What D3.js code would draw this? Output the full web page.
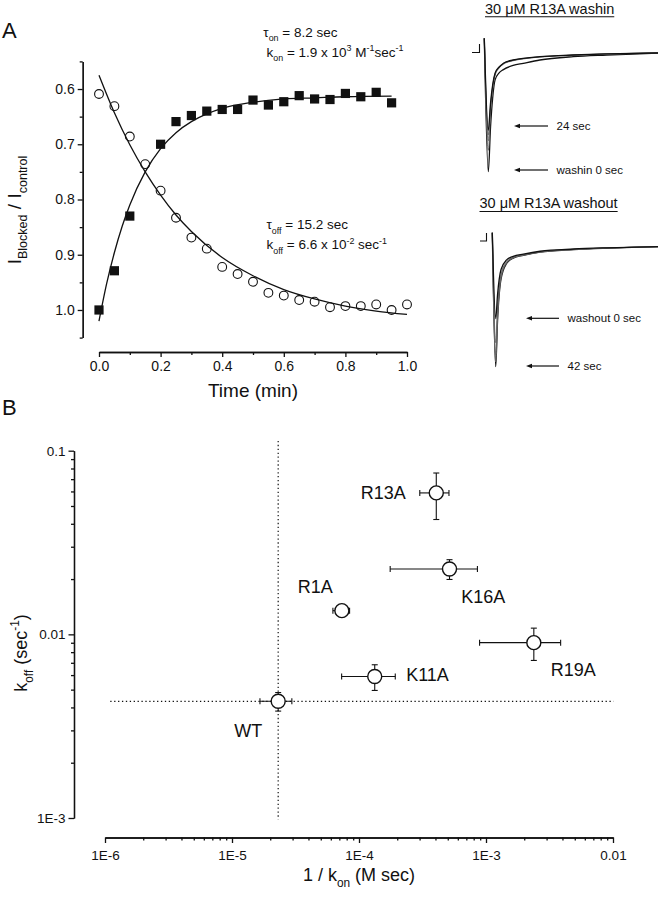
<!DOCTYPE html>
<html>
<head>
<meta charset="utf-8">
<script src="https://cdn.jsdelivr.net/npm/d3@7"></script>
<style>
  body { margin: 0; background: #fff; }
  svg text { font-family: "Liberation Sans", Arial, Helvetica, sans-serif; fill: #111; }
</style>
</head>
<body>
<div id="chart"></div>
<script>
// ---------- panel A (left): block kinetics ----------
let washinTime  = [0, 0.05, 0.10, 0.20, 0.25, 0.30, 0.35, 0.40, 0.45, 0.50, 0.55, 0.60, 0.65, 0.70, 0.75, 0.80, 0.85, 0.90, 0.95];
let washinRatio = [1.000, 0.929, 0.830, 0.700, 0.659, 0.648, 0.640, 0.637, 0.637, 0.620, 0.629, 0.623, 0.612, 0.618, 0.619, 0.608, 0.614, 0.606, 0.625];

let washoutTime  = [0, 0.05, 0.10, 0.15, 0.20, 0.25, 0.30, 0.35, 0.40, 0.45, 0.50, 0.55, 0.60, 0.65, 0.70, 0.75, 0.80, 0.85, 0.90, 0.95, 1.00];
let washoutRatio = [0.609, 0.631, 0.686, 0.736, 0.784, 0.833, 0.869, 0.889, 0.922, 0.935, 0.949, 0.969, 0.974, 0.982, 0.985, 0.995, 0.993, 0.993, 0.990, 1.000, 0.990];

// fitted curves
let washinFitTime   = [0, 0.025, 0.05, 0.075, 0.10, 0.15, 0.20, 0.25, 0.30, 0.35, 0.40, 0.50, 0.60, 0.70, 0.80, 0.95];
let washinFitRatio  = [1.020, 0.952, 0.896, 0.849, 0.810, 0.750, 0.708, 0.679, 0.659, 0.645, 0.635, 0.624, 0.618, 0.616, 0.614, 0.613];
let washoutFitTime  = [0, 0.05, 0.10, 0.15, 0.20, 0.25, 0.30, 0.40, 0.50, 0.60, 0.70, 0.80, 0.90, 1.00];
let washoutFitRatio = [0.575, 0.643, 0.701, 0.750, 0.792, 0.828, 0.858, 0.905, 0.938, 0.963, 0.980, 0.993, 1.002, 1.008];

let timeTicks  = [0, 0.2, 0.4, 0.6, 0.8, 1.0];
let timeMinor  = [0.1, 0.3, 0.5, 0.7, 0.9];
let ratioTicks = [0.6, 0.7, 0.8, 0.9, 1.0];
let ratioMinor = [0.55, 0.65, 0.75, 0.85, 0.95, 1.05];

// ---------- panel A (right): current traces ----------
// normalised current, 0 = baseline, -1 = largest peak
let washinTraceTime = [0, 1.15, 1.8, 2.4, 3.1, 4.2, 5.5, 8.3, 11.2, 16, 25.6, 35.2, 50];
let washinTraces = [
    [0.124, -1.00, -0.62, -0.38, -0.227, -0.17, -0.14, -0.105, -0.087, -0.059, -0.031, -0.017, 0],   // washin 0 sec
    [0.124, -0.82, -0.50, -0.31, -0.190, -0.13, -0.095, -0.065, -0.050, -0.034, -0.019, -0.009, 0],
    [0.124, -0.74, -0.46, -0.29, -0.180, -0.125, -0.090, -0.062, -0.047, -0.032, -0.018, -0.008, 0],
    [0.124, -0.69, -0.44, -0.28, -0.175, -0.122, -0.088, -0.060, -0.046, -0.031, -0.017, -0.008, 0],
    [0.124, -0.65, -0.42, -0.27, -0.171, -0.120, -0.087, -0.059, -0.045, -0.031, -0.017, -0.008, 0]  // 24 sec
];
let washoutTraceTime = [0, 0.98, 1.5, 2.5, 4.1, 6, 8.9, 13.7, 23.3, 32.8, 47.5];
let washoutTraces = [
    [0.117, -1.00, -0.62, -0.27, -0.140, -0.095, -0.072, -0.045, -0.024, -0.012, 0],  // 42 sec
    [0.117, -0.96, -0.60, -0.26, -0.136, -0.094, -0.071, -0.045, -0.024, -0.012, 0],
    [0.117, -0.90, -0.57, -0.25, -0.132, -0.092, -0.070, -0.044, -0.023, -0.011, 0],
    [0.117, -0.80, -0.51, -0.23, -0.125, -0.088, -0.067, -0.042, -0.022, -0.011, 0],
    [0.117, -0.60, -0.40, -0.19, -0.110, -0.080, -0.062, -0.038, -0.019, -0.009, 0]   // washout 0 sec
];

// ---------- panel B: koff vs 1/kon ----------
let mutants   = ['WT', 'R1A', 'K11A', 'R13A', 'K16A', 'R19A'];
let invKon    = [2.31e-5, 7.33e-5, 1.33e-4, 4.06e-4, 5.16e-4, 2.38e-3];
let invKonErr = [0.65e-5, 1.1e-5, 0.6e-4, 1.05e-4, 3.4e-4, 1.49e-3];
let koff      = [4.32e-3, 0.01346, 5.89e-3, 0.0589, 0.0227, 9.01e-3];
let koffErr   = [0.50e-3, 0.0006, 0.94e-3, 0.0167, 0.0028, 1.8e-3];

let xDecades = [1e-6, 1e-5, 1e-4, 1e-3, 1e-2];
let xDecadeLabels = ['1E-6', '1E-5', '1E-4', '1E-3', '0.01'];
let yDecades = [1e-3, 1e-2, 1e-1];
let yDecadeLabels = ['1E-3', '0.01', '0.1'];

const FONT = '"Liberation Sans", Arial, Helvetica, sans-serif';

let svg = d3.select('#chart').append('svg')
    .attr('width', 659)
    .attr('height', 899);

// writes text with sub/superscripts: parts = [[text, 'sub'|'sup'|undefined], ...]
function richText(sel, parts, size) {
    let shift = 0;
    parts.forEach(function (p) {
        let target = p[1] === 'sub' ? size * 0.32 : (p[1] === 'sup' ? -size * 0.42 : 0);
        sel.append('tspan')
            .attr('dy', (target - shift).toFixed(2))
            .attr('font-size', p[1] ? size * 0.66 : size)
            .text(p[0]);
        shift = target;
    });
    return sel;
}

function styleAxis(g, size) {
    g.attr('font-family', FONT).attr('font-size', size);
    g.selectAll('path, line').attr('stroke', '#111').attr('stroke-width', 1.3);
    g.selectAll('text').attr('fill', '#111');
}

// ================= Panel A, kinetics plot =================
let xA = d3.scaleLinear().domain([0, 1]).range([99, 407]);
let yA = d3.scaleLinear().domain([0.55, 1.05]).range([61.4, 337.6]);

let gxA = svg.append('g').attr('transform', 'translate(0,352)')
    .call(d3.axisBottom(xA).tickValues(timeTicks).tickFormat(d3.format('.1f'))
        .tickSize(5).tickSizeOuter(0).tickPadding(4));
styleAxis(gxA, 14);
let gxAm = svg.append('g').attr('transform', 'translate(0,352)')
    .call(d3.axisBottom(xA).tickValues(timeMinor).tickFormat('').tickSize(3).tickSizeOuter(0));
styleAxis(gxAm, 14);

let gyA = svg.append('g').attr('transform', 'translate(82.7,0)')
    .call(d3.axisLeft(yA).tickValues(ratioTicks).tickFormat(d3.format('.1f'))
        .tickSize(5).tickSizeOuter(0).tickPadding(3));
styleAxis(gyA, 14);
let gyAm = svg.append('g').attr('transform', 'translate(82.7,0)')
    .call(d3.axisLeft(yA).tickValues(ratioMinor).tickFormat('').tickSize(3).tickSizeOuter(0));
styleAxis(gyAm, 14);

svg.append('text').attr('x', 253).attr('y', 397).attr('text-anchor', 'middle')
    .attr('font-size', 19).text('Time (min)');

richText(svg.append('text')
    .attr('transform', 'translate(21,210) rotate(-90)')
    .attr('text-anchor', 'middle'),
    [['I'], ['Blocked', 'sub'], [' / I'], ['control', 'sub']], 19);

svg.append('text').attr('x', 2).attr('y', 38).attr('font-size', 22).text('A');

let fitLine = d3.line()
    .x(function (d) { return xA(d[0]); })
    .y(function (d) { return yA(d[1]); })
    .curve(d3.curveMonotoneX);

svg.append('path')
    .datum(d3.zip(washinFitTime, washinFitRatio))
    .attr('d', fitLine)
    .attr('fill', 'none').attr('stroke', '#111').attr('stroke-width', 1.3);
svg.append('path')
    .datum(d3.zip(washoutFitTime, washoutFitRatio))
    .attr('d', fitLine)
    .attr('fill', 'none').attr('stroke', '#111').attr('stroke-width', 1.3);

svg.append('g').selectAll('circle')
    .data(d3.zip(washoutTime, washoutRatio))
    .enter().append('circle')
    .attr('cx', function (d) { return xA(d[0]); })
    .attr('cy', function (d) { return yA(d[1]); })
    .attr('r', 4.4)
    .attr('fill', 'none').attr('stroke', '#111').attr('stroke-width', 1.1);

svg.append('g').selectAll('rect')
    .data(d3.zip(washinTime, washinRatio))
    .enter().append('rect')
    .attr('x', function (d) { return xA(d[0]) - 4.6; })
    .attr('y', function (d) { return yA(d[1]) - 4.6; })
    .attr('width', 9.2).attr('height', 9.2)
    .attr('fill', '#111');

richText(svg.append('text').attr('x', 263.3).attr('y', 36.7),
    [['\u03c4'], ['on', 'sub'], [' = 8.2 sec']], 13.5);
richText(svg.append('text').attr('x', 266.5).attr('y', 56.7),
    [['k'], ['on', 'sub'], [' = 1.9 x 10'], ['3', 'sup'], [' M'], ['-1', 'sup'], ['sec'], ['-1', 'sup']], 13.5);
richText(svg.append('text').attr('x', 266.5).attr('y', 229.3),
    [['\u03c4'], ['off', 'sub'], [' = 15.2 sec']], 13.5);
richText(svg.append('text').attr('x', 266.5).attr('y', 249.3),
    [['k'], ['off', 'sub'], [' = 6.6 x 10'], ['-2', 'sup'], [' sec'], ['-1', 'sup']], 13.5);

// ================= Panel A, current traces =================
function drawTraces(times, traces, xr, y0, y1) {
    let x = d3.scaleLinear().domain([0, d3.max(times)]).range(xr);
    let y = d3.scaleLinear().domain([-1, 0]).range([y1, y0]);
    let line = d3.line()
        .x(function (d) { return x(d[0]); })
        .y(function (d) { return y(d[1]); })
        .curve(d3.curveMonotoneX);
    let g = svg.append('g');
    // extremes in black, the ones in between in grey
    let order = [0, 1, 2, 3, traces.length - 1];
    order.forEach(function (i) {
        let edge = (i === 0 || i === traces.length - 1);
        g.append('path')
            .datum(d3.zip(times, traces[i]))
            .attr('d', line)
            .attr('fill', 'none')
            .attr('stroke', edge ? '#111' : '#666')
            .attr('stroke-width', edge ? 1.3 : 0.9);
    });
}

function arrowLabel(x1, x2, yy, label) {
    svg.append('line').attr('x1', x1 + 3).attr('x2', x2).attr('y1', yy).attr('y2', yy)
        .attr('stroke', '#111').attr('stroke-width', 1.2);
    svg.append('path')
        .attr('d', 'M' + x1 + ',' + yy + 'l6,-2.2v4.4z')
        .attr('fill', '#111');
    svg.append('text').attr('x', x2 + 8.5).attr('y', yy + 4)
        .attr('font-size', 11.5).text(label);
}

function underlinedTitle(x, y, label) {
    let t = svg.append('text').attr('x', x).attr('y', y).attr('font-size', 14.5).text(label);
    let w = t.node().getComputedTextLength();
    svg.append('line').attr('x1', x).attr('x2', x + w).attr('y1', y + 3.2).attr('y2', y + 3.2)
        .attr('stroke', '#111').attr('stroke-width', 1.1);
}

underlinedTitle(485, 13.5, '30 \u03bcM R13A washin');
svg.append('path').attr('d', 'M472,52.5H479.5V44')
    .attr('fill', 'none').attr('stroke', '#111').attr('stroke-width', 1.1);
drawTraces(washinTraceTime, washinTraces, [484.3, 658], 53, 171.7);
arrowLabel(514, 548, 126, '24 sec');
arrowLabel(514, 548, 170, 'washin 0 sec');

underlinedTitle(479.5, 208.3, '30 \u03bcM R13A washout');
svg.append('path').attr('d', 'M480,241H486.5V233')
    .attr('fill', 'none').attr('stroke', '#111').attr('stroke-width', 1.1);
drawTraces(washoutTraceTime, washoutTraces, [492.3, 658], 246.7, 366.7);
arrowLabel(526, 559, 318.3, 'washout 0 sec');
arrowLabel(526, 559, 366, '42 sec');

// ================= Panel B =================
let xB = d3.scaleLog().domain([1e-6, 1e-2]).range([105, 613]);
let yB = d3.scaleLog().domain([1e-3, 1e-1]).range([818, 450.7]);

let xMinor = [], yMinor = [];
for (let k = 0; k < xDecades.length - 1; k++) {
    for (let m = 2; m <= 9; m++) xMinor.push(xDecades[k] * m);
}
for (let k = 0; k < yDecades.length - 1; k++) {
    for (let m = 2; m <= 9; m++) yMinor.push(yDecades[k] * m);
}

let gxB = svg.append('g').attr('transform', 'translate(0,837.5)')
    .call(d3.axisBottom(xB).tickValues(xDecades)
        .tickFormat(function (d, i) { return xDecadeLabels[i]; })
        .tickSize(5.5).tickSizeOuter(0).tickPadding(7));
styleAxis(gxB, 13.5);
let gxBm = svg.append('g').attr('transform', 'translate(0,837.5)')
    .call(d3.axisBottom(xB).tickValues(xMinor).tickFormat('').tickSize(3).tickSizeOuter(0));
styleAxis(gxBm, 13.5);

let gyB = svg.append('g').attr('transform', 'translate(74,0)')
    .call(d3.axisLeft(yB).tickValues(yDecades)
        .tickFormat(function (d, i) { return yDecadeLabels[i]; })
        .tickSize(5.5).tickSizeOuter(0).tickPadding(3));
styleAxis(gyB, 13.5);
let gyBm = svg.append('g').attr('transform', 'translate(74,0)')
    .call(d3.axisLeft(yB).tickValues(yMinor).tickFormat('').tickSize(3).tickSizeOuter(0));
styleAxis(gyBm, 13.5);

richText(svg.append('text').attr('x', 359).attr('y', 881).attr('text-anchor', 'middle'),
    [['1 / k'], ['on', 'sub'], [' (M sec)']], 18);
richText(svg.append('text')
    .attr('transform', 'translate(27,653) rotate(-90)')
    .attr('text-anchor', 'middle'),
    [['k'], ['off', 'sub'], [' (sec'], ['-1', 'sup'], [')']], 18);

svg.append('text').attr('x', 2).attr('y', 415).attr('font-size', 22).text('B');

// dotted reference lines through WT
svg.append('line')
    .attr('x1', xB(invKon[0])).attr('x2', xB(invKon[0]))
    .attr('y1', yB(0.113)).attr('y2', yB(0.00098))
    .attr('stroke', '#111').attr('stroke-width', 1.2).attr('stroke-dasharray', '1.3,2.6');
svg.append('line')
    .attr('x1', xB(1.1e-6)).attr('x2', xB(0.0101))
    .attr('y1', yB(koff[0])).attr('y2', yB(koff[0]))
    .attr('stroke', '#111').attr('stroke-width', 1.2).attr('stroke-dasharray', '1.3,2.6');

let pts = mutants.map(function (name, i) {
    return {name: name, x: invKon[i], xe: invKonErr[i], y: koff[i], ye: koffErr[i]};
});

let eb = svg.append('g').attr('stroke', '#111').attr('stroke-width', 1.1);
pts.forEach(function (d) {
    let cx = xB(d.x), cy = yB(d.y);
    let xl = xB(d.x - d.xe), xr = xB(d.x + d.xe);
    let yt = yB(d.y + d.ye), yb = yB(d.y - d.ye);
    eb.append('line').attr('x1', xl).attr('x2', xr).attr('y1', cy).attr('y2', cy);
    eb.append('line').attr('x1', xl).attr('x2', xl).attr('y1', cy - 3).attr('y2', cy + 3);
    eb.append('line').attr('x1', xr).attr('x2', xr).attr('y1', cy - 3).attr('y2', cy + 3);
    eb.append('line').attr('x1', cx).attr('x2', cx).attr('y1', yt).attr('y2', yb);
    eb.append('line').attr('x1', cx - 3).attr('x2', cx + 3).attr('y1', yt).attr('y2', yt);
    eb.append('line').attr('x1', cx - 3).attr('x2', cx + 3).attr('y1', yb).attr('y2', yb);
});

svg.append('g').selectAll('circle')
    .data(pts)
    .enter().append('circle')
    .attr('cx', function (d) { return xB(d.x); })
    .attr('cy', function (d) { return yB(d.y); })
    .attr('r', 7)
    .attr('fill', '#fff').attr('stroke', '#111').attr('stroke-width', 1.4);

// label placement relative to each point: [dx, dy, anchor]
let labelPos = {
    'WT':   [-44, 35.4, 'start'],
    'R1A':  [-9, -17.4, 'end'],
    'K11A': [31.4, 4.1, 'start'],
    'R13A': [-30.6, 6.4, 'end'],
    'K16A': [11.7, 34.3, 'start'],
    'R19A': [16.9, 33.4, 'start']
};
svg.append('g').selectAll('text')
    .data(pts)
    .enter().append('text')
    .attr('x', function (d) { return xB(d.x) + labelPos[d.name][0]; })
    .attr('y', function (d) { return yB(d.y) + labelPos[d.name][1]; })
    .attr('text-anchor', function (d) { return labelPos[d.name][2]; })
    .attr('font-size', 18)
    .text(function (d) { return d.name; });
</script>
</body>
</html>
